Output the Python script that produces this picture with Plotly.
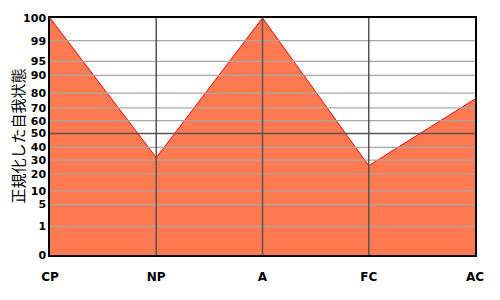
import numpy as np
import plotly.graph_objects as go

# Data
categories = ["CP", "NP", "A", "FC", "AC"]
values = [100, 32, 100, 26, 76]

# Non-linear (normalized) y scale: tick labels and their scale positions
tick_labels = [0, 1, 5, 10, 20, 30, 40, 50, 60, 70, 80, 90, 95, 99, 100]
tick_pos = [0, 29, 51, 65, 82, 96, 109, 123, 136, 149, 164, 182, 196, 217, 240]


def to_scale(v):
    return np.interp(v, tick_labels, tick_pos)


x_idx = list(range(len(categories)))
y_scaled = [float(to_scale(v)) for v in values]

fig = go.Figure()
fig.add_trace(go.Scatter(
    x=x_idx, y=y_scaled, mode="lines", fill="tozeroy",
    fillcolor="#FF7A50", line=dict(color="#FF0000", width=1),
    hoverinfo="skip", showlegend=False,
))

shapes = []
# horizontal grid lines (drawn above the fill)
for lab, p in zip(tick_labels, tick_pos):
    if lab in (0, 100):
        continue
    col = "#555555" if lab == 50 else "#A8A8A8"
    shapes.append(dict(type="line", xref="paper", x0=0, x1=1, yref="y", y0=p, y1=p,
                       line=dict(color=col, width=1.5 if lab == 50 else 1.2), layer="above"))
# vertical grid lines at inner categories
for i in x_idx[1:-1]:
    shapes.append(dict(type="line", xref="x", x0=i, x1=i, yref="paper", y0=0, y1=1,
                       line=dict(color="#555555", width=1.5), layer="above"))

xfont = dict(family="DejaVu Sans", size=12, color="#000000", weight="bold")
yfont = dict(family="DejaVu Sans", size=11, color="#000000", weight="bold")

fig.update_layout(
    width=500, height=300,
    margin=dict(l=50, r=25, t=15, b=45),
    paper_bgcolor="white", plot_bgcolor="white",
    shapes=shapes,
    xaxis=dict(
        range=[0, len(categories) - 1], tickvals=x_idx, ticktext=categories,
        showgrid=False, zeroline=False, showline=True, linecolor="#000000",
        linewidth=1.5, mirror=True, ticks="", tickfont=xfont,
        ticklabelstandoff=10, fixedrange=True,
    ),
    yaxis=dict(
        range=[0, 240], tickvals=tick_pos, ticktext=[str(t) for t in tick_labels],
        showgrid=False, zeroline=False, showline=True, linecolor="#000000",
        linewidth=1.5, mirror=True, ticks="", tickfont=yfont,
        ticklabelstandoff=0, fixedrange=True,
    ),
    annotations=[dict(
        text="正規化した自我状態", textangle=-90, showarrow=False,
        xref="paper", yref="paper", x=-(50 - 17) / 425, y=0.5,
        xanchor="center", yanchor="middle",
        font=dict(family="Noto Sans CJK JP", size=15, color="#000000"),
    )],
)

fig.write_html("out.html")
